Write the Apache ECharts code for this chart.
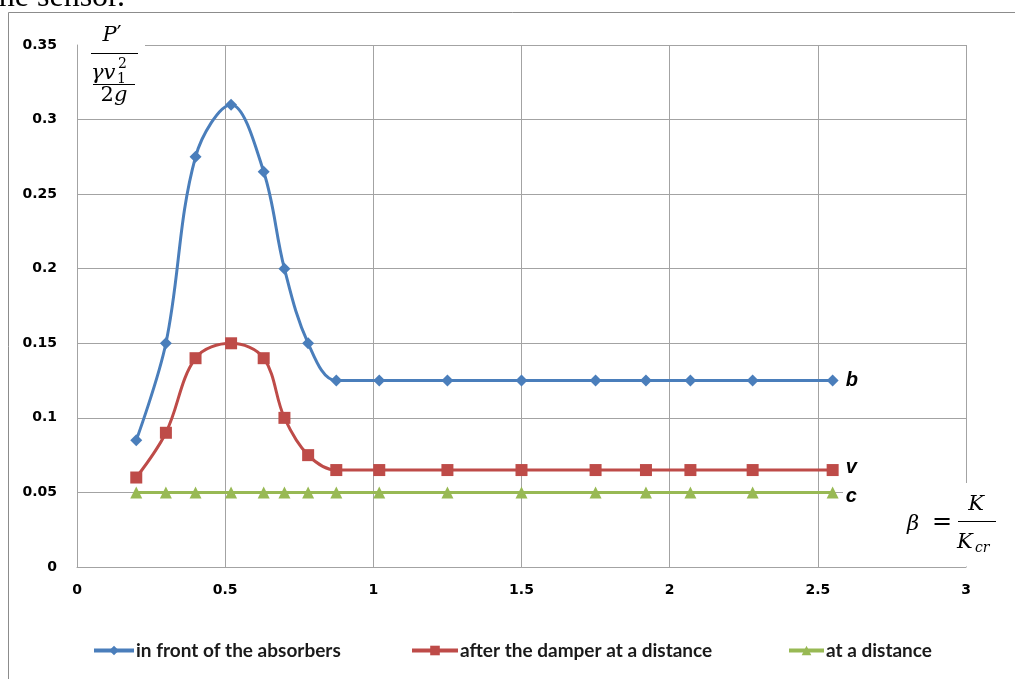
<!DOCTYPE html>
<html>
<head>
<meta charset="utf-8">
<script src="https://cdn.jsdelivr.net/npm/echarts@6/dist/echarts.min.js"></script>
<style>html,body{margin:0;padding:0;background:#fff;}#c{width:1015px;height:679px;}</style>
</head>
<body>
<div id="c"></div>
<script>
const betaValues = [0.2, 0.3, 0.4, 0.52, 0.63, 0.7, 0.78, 0.875, 1.02, 1.25, 1.5, 1.75, 1.92, 2.07, 2.28, 2.55];
const frontValues = [0.085, 0.15, 0.275, 0.31, 0.265, 0.2, 0.15, 0.125, 0.125, 0.125, 0.125, 0.125, 0.125, 0.125, 0.125, 0.125];
const damperValues = [0.06, 0.09, 0.14, 0.15, 0.14, 0.1, 0.075, 0.065, 0.065, 0.065, 0.065, 0.065, 0.065, 0.065, 0.065, 0.065];
const distanceValues = [0.05, 0.05, 0.05, 0.05, 0.05, 0.05, 0.05, 0.05, 0.05, 0.05, 0.05, 0.05, 0.05, 0.05, 0.05, 0.05];
const seriesNames = ['in front of the absorbers', 'after the damper at a distance', 'at a distance'];
const endNames = ['b', 'v', 'c'];

const chart = echarts.init(document.getElementById('c'), null, {renderer: 'canvas'});
const pair = vals => betaValues.map((b, i) => [b, vals[i]]);
const gridColor = '#a3a3a3';
const smoothness = 0.36;
const tickFont = {color: '#000', fontFamily: 'DejaVu Sans', fontWeight: 'bold', fontSize: 14};
const endLabel = (txt, off) => ({
  show: true, formatter: txt, distance: 13, offset: off,
  fontFamily: 'Liberation Sans', fontStyle: 'italic', fontWeight: 'bold', fontSize: 20, color: '#000'
});
const mathFont = '"DejaVu Serif"';
const legendBase = {
  top: 636, itemHeight: 12,
  lineStyle: {width: 4},
  textStyle: {fontFamily: 'Lato', fontWeight: 'bold', fontSize: 19, color: '#1a1a1a', padding: [0, 0, 0, -3]}
};

chart.setOption({
  animation: false,
  backgroundColor: '#fff',
  grid: {left: 77, right: 49, top: 45, bottom: 112},
  xAxis: {
    type: 'value', min: 0, max: 3, interval: 0.5,
    axisLine: {show: true, lineStyle: {color: gridColor, width: 1}},
    axisTick: {show: false},
    splitLine: {show: true, lineStyle: {color: gridColor, width: 1}},
    axisLabel: Object.assign({margin: 16}, tickFont)
  },
  yAxis: {
    type: 'value', min: 0, max: 0.35, interval: 0.05,
    axisLine: {show: true, lineStyle: {color: gridColor, width: 1}},
    axisTick: {show: false},
    splitLine: {show: true, lineStyle: {color: gridColor, width: 1}},
    axisLabel: Object.assign({margin: 20}, tickFont)
  },
  legend: [
    Object.assign({left: 87, itemWidth: 40, data: [seriesNames[0]]}, legendBase),
    Object.assign({left: 405, itemWidth: 46, data: [seriesNames[1]]}, legendBase),
    Object.assign({left: 782, itemWidth: 35, data: [seriesNames[2]]}, legendBase)
  ],
  series: [
    {name: seriesNames[0], type: 'line', smooth: smoothness, data: pair(frontValues),
     symbol: 'diamond', symbolSize: 12, itemStyle: {color: '#4a7ebb'}, lineStyle: {width: 3, color: '#4a7ebb'},
     endLabel: endLabel(endNames[0], [0, 0])},
    {name: seriesNames[1], type: 'line', smooth: smoothness, data: pair(damperValues),
     symbol: 'rect', symbolSize: 12, itemStyle: {color: '#be4b48'}, lineStyle: {width: 3, color: '#be4b48'},
     endLabel: endLabel(endNames[1], [0, -3])},
    {name: seriesNames[2], type: 'line', smooth: smoothness, data: pair(distanceValues),
     symbol: 'triangle', symbolSize: 12, itemStyle: {color: '#98b954'}, lineStyle: {width: 3, color: '#98b954'},
     endLabel: endLabel(endNames[2], [0, 4])}
  ],
  graphic: [
    {type: 'rect', z: 0, silent: true, shape: {x: 8.5, y: 12.5, width: 1200, height: 800},
     style: {fill: 'none', stroke: '#8c8c8c', lineWidth: 1}},
    {type: 'text', z: 10, style: {text: 'the sensor.', x: 125, y: 14, align: 'right', verticalAlign: 'bottom',
     font: '32px "Liberation Serif"', fill: '#000'}},
    // y axis title box
    {type: 'rect', z: 1, silent: true, shape: {x: 78, y: 18, width: 67, height: 96}, style: {fill: '#fff'}},
    {type: 'text', z: 10, style: {text: '{i|P}{p|′}', x: 112, y: 36, align: 'center', verticalAlign: 'middle',
     rich: {i: {font: 'italic 21px ' + mathFont, fill: '#000'}, p: {font: '21px "DejaVu Sans"', fill: '#000'}}}},
    {type: 'line', z: 10, shape: {x1: 91, y1: 53.5, x2: 138, y2: 53.5}, style: {stroke: '#000', lineWidth: 1.2}},
    {type: 'text', z: 10, style: {text: 'γv', x: 91, y: 74, align: 'left', verticalAlign: 'middle',
     font: 'italic 21px ' + mathFont, fill: '#000'}},
    {type: 'text', z: 10, style: {text: '2', x: 118, y: 64, align: 'left', verticalAlign: 'middle',
     font: '14px ' + mathFont, fill: '#000'}},
    {type: 'text', z: 10, style: {text: '1', x: 117, y: 79, align: 'left', verticalAlign: 'middle',
     font: '14px ' + mathFont, fill: '#000'}},
    {type: 'line', z: 10, shape: {x1: 93, y1: 84.5, x2: 135, y2: 84.5}, style: {stroke: '#000', lineWidth: 1.2}},
    {type: 'text', z: 10, style: {text: '{a|2}{b|g}', x: 114, y: 96, align: 'center', verticalAlign: 'middle',
     rich: {a: {font: '21px ' + mathFont, fill: '#000'}, b: {font: 'italic 21px ' + mathFont, fill: '#000'}}}},
    // beta box
    {type: 'rect', z: 1, silent: true, shape: {x: 843, y: 483, width: 170, height: 83.5}, style: {fill: '#fff'}},
    {type: 'text', z: 10, style: {text: 'β', x: 913, y: 525, align: 'center', verticalAlign: 'middle',
     font: 'italic 21px ' + mathFont, fill: '#000'}},
    {type: 'text', z: 10, style: {text: '=', x: 942, y: 523, align: 'center', verticalAlign: 'middle',
     font: '24px ' + mathFont, fill: '#000'}},
    {type: 'line', z: 10, shape: {x1: 958, y1: 521.5, x2: 996, y2: 521.5}, style: {stroke: '#000', lineWidth: 1.2}},
    {type: 'text', z: 10, style: {text: 'K', x: 976, y: 505, align: 'center', verticalAlign: 'middle',
     font: 'italic 21px ' + mathFont, fill: '#000'}},
    {type: 'text', z: 10, style: {text: 'K', x: 957, y: 543, align: 'left', verticalAlign: 'middle',
     font: 'italic 21px ' + mathFont, fill: '#000'}},
    {type: 'text', z: 10, style: {text: 'cr', x: 975, y: 548, align: 'left', verticalAlign: 'middle',
     font: 'italic 14px ' + mathFont, fill: '#000'}}
  ]
});
</script>
</body>
</html>
